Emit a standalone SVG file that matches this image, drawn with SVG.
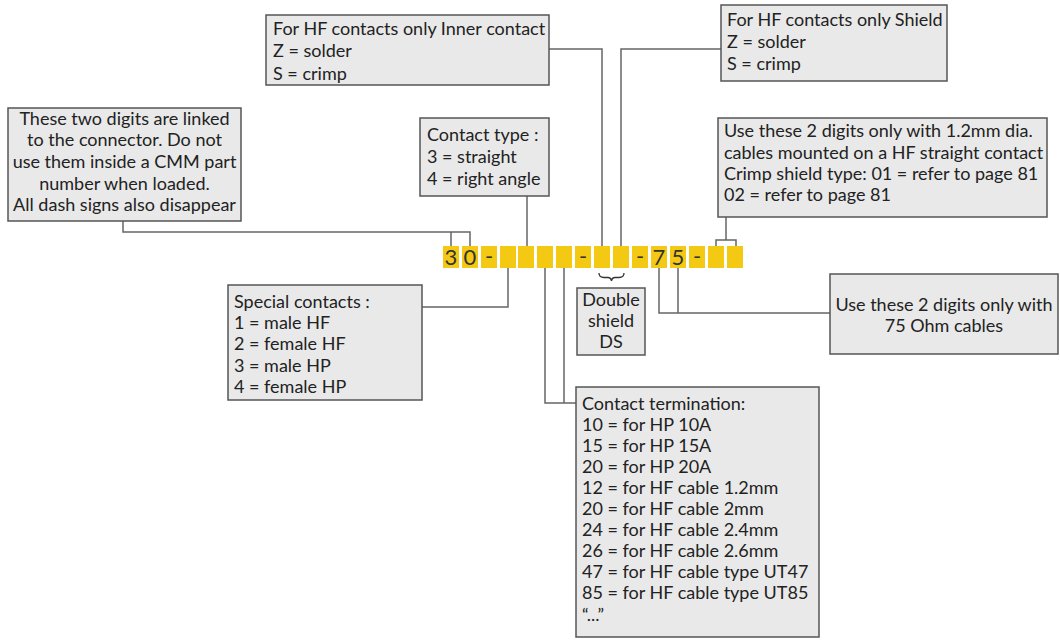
<svg xmlns="http://www.w3.org/2000/svg" width="1060" height="641" viewBox="0 0 1060 641">
<style>
.box{fill:#e9e9e9;stroke:#555;stroke-width:1.5}
.t{font-family:Lato,"Liberation Sans",sans-serif;font-size:18px;fill:#222}
.c{text-anchor:middle}
.cell{fill:#f3c913}
.d{font-family:Lato,"Liberation Sans",sans-serif;font-size:22px;fill:#333;text-anchor:middle}
.ln{fill:none;stroke:#666;stroke-width:1.5}
</style>
<rect width="1060" height="641" fill="#fff"/>
<g id="code">
<rect class="cell" x="443" y="246" width="16" height="22"/>
<rect class="cell" x="462" y="246" width="16" height="22"/>
<rect class="cell" x="481" y="246" width="16" height="22"/>
<rect class="cell" x="500" y="246" width="16" height="22"/>
<rect class="cell" x="518" y="246" width="16" height="22"/>
<rect class="cell" x="537" y="246" width="16" height="22"/>
<rect class="cell" x="556" y="246" width="16" height="22"/>
<rect class="cell" x="575" y="246" width="16" height="22"/>
<rect class="cell" x="594" y="246" width="16" height="22"/>
<rect class="cell" x="613" y="246" width="16" height="22"/>
<rect class="cell" x="632" y="246" width="16" height="22"/>
<rect class="cell" x="651" y="246" width="16" height="22"/>
<rect class="cell" x="670" y="246" width="16" height="22"/>
<rect class="cell" x="689" y="246" width="16" height="22"/>
<rect class="cell" x="708" y="246" width="16" height="22"/>
<rect class="cell" x="727" y="246" width="16" height="22"/>
<text class="d" x="451" y="265">3</text>
<text class="d" x="470" y="265">0</text>
<text class="d" x="489" y="264">-</text>
<text class="d" x="583" y="264">-</text>
<text class="d" x="640" y="264">-</text>
<text class="d" x="659" y="265">7</text>
<text class="d" x="678" y="265">5</text>
<text class="d" x="697" y="264">-</text>
</g>
<g id="connectors">
<path class="ln" d="M123,221 V232 H470 V246 M451,232 V246"/>
<path class="ln" d="M527,196 V246"/>
<path class="ln" d="M549,49 H602 V246"/>
<path class="ln" d="M721,49 H621 V246"/>
<path class="ln" d="M726,217 V240 M716,246 V240 H736 V246"/>
<path class="ln" d="M508,268 V307 H422"/>
<path class="ln" d="M545,268 V403 H576 M564,268 V403"/>
<path class="ln" d="M659,268 V313 H830 M678,268 V313"/>
<path fill="none" stroke="#333" stroke-width="1.3" d="M599,273 Q599,277.5 604,277.5 H608 Q611,277.5 611.5,281 Q612,277.5 615,277.5 H619 Q624,277.5 624,273"/>
</g>
<g id="linked">
<rect class="box" x="8" y="108" width="233" height="113"/>
<text class="t c" x="124.5" y="124.5">These two digits are linked</text>
<text class="t c" x="124.5" y="146">to the connector. Do not</text>
<text class="t c" x="124.5" y="168">use them inside a CMM part</text>
<text class="t c" x="124.5" y="189.5">number when loaded.</text>
<text class="t c" x="124.5" y="211">All dash signs also disappear</text>
</g>
<g id="inner">
<rect class="box" x="266" y="15" width="283" height="70"/>
<text class="t" x="273" y="34.5">For HF contacts only Inner contact</text>
<text class="t" x="273" y="57">Z = solder</text>
<text class="t" x="273" y="79.5">S = crimp</text>
</g>
<g id="shield">
<rect class="box" x="721" y="5" width="226" height="76"/>
<text class="t" x="727" y="26">For HF contacts only Shield</text>
<text class="t" x="727" y="48">Z = solder</text>
<text class="t" x="727" y="69.5">S = crimp</text>
</g>
<g id="contact-type">
<rect class="box" x="420" y="118" width="129" height="78"/>
<text class="t" x="427" y="141">Contact type :</text>
<text class="t" x="427" y="163">3 = straight</text>
<text class="t" x="427" y="184.5">4 = right angle</text>
</g>
<g id="crimp-shield">
<rect class="box" x="718" y="118" width="329" height="99"/>
<text class="t" x="724" y="137">Use these 2 digits only with 1.2mm dia.</text>
<text class="t" x="724" y="158.5">cables mounted on a HF straight contact</text>
<text class="t" x="724" y="179.5">Crimp shield type: 01 = refer to page 81</text>
<text class="t" x="724" y="200.5">02 = refer to page 81</text>
</g>
<g id="special">
<rect class="box" x="228" y="285" width="194" height="115"/>
<text class="t" x="234" y="308">Special contacts :</text>
<text class="t" x="234" y="329">1 = male HF</text>
<text class="t" x="234" y="350">2 = female HF</text>
<text class="t" x="234" y="371.5">3 = male HP</text>
<text class="t" x="234" y="393">4 = female HP</text>
</g>
<g id="double-shield">
<rect class="box" x="577" y="288" width="68" height="67"/>
<text class="t c" x="611" y="305.5">Double</text>
<text class="t c" x="611" y="327">shield</text>
<text class="t c" x="611" y="348">DS</text>
</g>
<g id="ohm">
<rect class="box" x="830" y="274" width="228" height="80"/>
<text class="t c" x="944" y="311">Use these 2 digits only with</text>
<text class="t c" x="944" y="332">75 Ohm cables</text>
</g>
<g id="termination">
<rect class="box" x="576" y="387" width="243" height="250"/>
<text class="t" x="582" y="409.5">Contact termination:</text>
<text class="t" x="582" y="430.6">10 = for HP 10A</text>
<text class="t" x="582" y="451.7">15 = for HP 15A</text>
<text class="t" x="582" y="472.8">20 = for HP 20A</text>
<text class="t" x="582" y="493.9">12 = for HF cable 1.2mm</text>
<text class="t" x="582" y="515">20 = for HF cable 2mm</text>
<text class="t" x="582" y="536.1">24 = for HF cable 2.4mm</text>
<text class="t" x="582" y="557.2">26 = for HF cable 2.6mm</text>
<text class="t" x="582" y="578.3">47 = for HF cable type UT47</text>
<text class="t" x="582" y="599.4">85 = for HF cable type UT85</text>
<text class="t" x="582" y="620.5">“...”</text>
</g>
</svg>
